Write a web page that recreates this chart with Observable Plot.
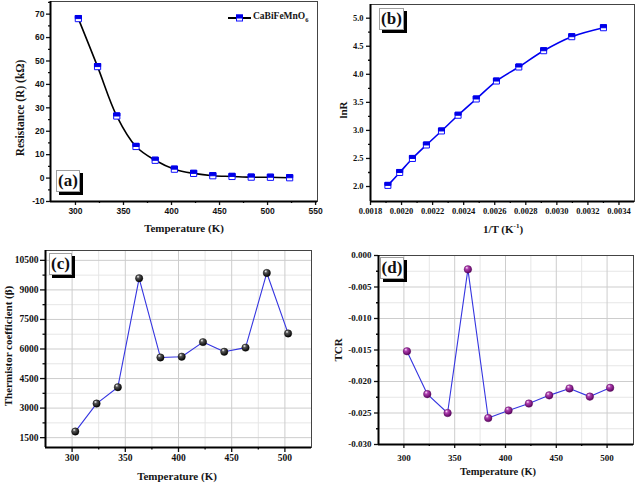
<!DOCTYPE html>
<html><head><meta charset="utf-8">
<script src="https://cdn.jsdelivr.net/npm/d3@7"></script>
<script src="https://cdn.jsdelivr.net/npm/@observablehq/plot@0.6"></script>
<style>
html,body{margin:0;padding:0;background:#fff;}
#wrap{position:relative;width:638px;height:484px;overflow:hidden;background:#fff;}
.t{position:absolute;font-family:"Liberation Serif","Times New Roman",serif;font-weight:bold;color:#151515;white-space:nowrap;line-height:1;}
.box{position:absolute;background:#fff;border:1px solid #a0a0a0;box-shadow:3px 3px 0 #000;font-family:"Liberation Serif",serif;font-weight:bold;font-size:17px;text-align:center;box-sizing:border-box;color:#111;}
</style></head><body><div id="wrap"></div>
<script>
// ---------- data ----------
const tempA = [303, 323, 343, 363, 383, 403, 423, 443, 463, 483, 503, 523];
const resistance = [68.1, 47.6, 26.5, 13.5, 7.6, 3.8, 2.0, 1.0, 0.7, 0.4, 0.35, 0.15];
const invT = [0.001912, 0.001988, 0.00207, 0.00216, 0.002257, 0.002364, 0.002481, 0.002611, 0.002755, 0.002915, 0.003096, 0.0033];
const lnR = [2.02, 2.25, 2.50, 2.74, 2.99, 3.27, 3.56, 3.88, 4.13, 4.42, 4.67, 4.83];
const tempC = [303, 323, 343, 363, 383, 403, 423, 443, 463, 483, 503];
const beta = [1810, 3230, 4060, 9590, 5570, 5610, 6350, 5860, 6070, 9860, 6790];
const tcr = [-0.0152, -0.0220, -0.0250, -0.0022, -0.0258, -0.0246, -0.0235, -0.0222, -0.0211, -0.0224, -0.0210];

// ---------- ticks ----------
const xTicksA = [300, 350, 400, 450, 500, 550];
const xMinorA = [325, 375, 425, 475, 525];
const yTicksA = [-10, 0, 10, 20, 30, 40, 50, 60, 70];
const yMinorA = [-5, 5, 15, 25, 35, 45, 55, 65, 75];
const xTicksB = [0.0018, 0.0020, 0.0022, 0.0024, 0.0026, 0.0028, 0.0030, 0.0032, 0.0034];
const xMinorB = [0.0019, 0.0021, 0.0023, 0.0025, 0.0027, 0.0029, 0.0031, 0.0033];
const yTicksB = [2.0, 2.5, 3.0, 3.5, 4.0, 4.5, 5.0];
const yMinorB = [2.25, 2.75, 3.25, 3.75, 4.25, 4.75];
const xTicksT = [300, 350, 400, 450, 500];
const xMinorT = [325, 375, 425, 475];
const yTicksC = [1500, 3000, 4500, 6000, 7500, 9000, 10500];
const yMinorC = [2250, 3750, 5250, 6750, 8250, 9750];
const yTicksD = [-0.030, -0.025, -0.020, -0.015, -0.010, -0.005, 0.000];
const yMinorD = [-0.0275, -0.0225, -0.0175, -0.0125, -0.0075, -0.0025];

const W = document.getElementById("wrap");

const topHalf = {
  draw(context, size) {
    const w = Math.sqrt(size) / 2;
    context.moveTo(-w, -w); context.lineTo(w, -w); context.lineTo(w, 0); context.lineTo(-w, 0); context.closePath();
  }
};

function panel(o) {
  const marks = [];
  if (o.grid) {
    marks.push(Plot.gridX(o.xMinor, {stroke: "#e6e6e6", strokeOpacity: 1}));
    marks.push(Plot.gridY(o.yMinor, {stroke: "#e6e6e6", strokeOpacity: 1}));
    marks.push(Plot.gridX(o.xTicks, {stroke: "#cdcdcd", strokeOpacity: 1}));
    marks.push(Plot.gridY(o.yTicks, {stroke: "#cdcdcd", strokeOpacity: 1}));
  }
  marks.push(Plot.frame({stroke: "#444", strokeWidth: 1}));
  marks.push(Plot.axisX(o.xTicks, {label: null, tickSize: o.ts, tickPadding: o.xPad, tickFormat: o.xFmt, strokeWidth: 1.3}));
  marks.push(Plot.axisX(o.xMinor, {label: null, tickSize: o.ts / 2, tickFormat: () => "", strokeWidth: 1.3}));
  marks.push(Plot.axisY(o.yTicks, {label: null, tickSize: o.ts, tickPadding: o.yPad, tickFormat: o.yFmt, strokeWidth: 1.3}));
  marks.push(Plot.axisY(o.yMinor, {label: null, tickSize: o.ts / 2, tickFormat: () => "", strokeWidth: 1.3}));
  marks.push(...o.marks);
  marks.push(Plot.ruleX([o.xDomain[0]], {stroke: "#000", strokeWidth: 2}));
  marks.push(Plot.ruleY([o.yDomain[0]], {stroke: "#000", strokeWidth: 2}));
  const svg = Plot.plot({
    width: o.width, height: o.height,
    marginLeft: o.m[0], marginRight: o.m[1], marginTop: o.m[2], marginBottom: o.m[3],
    x: {domain: o.xDomain}, y: {domain: o.yDomain},
    style: {fontFamily: o.font, fontSize: o.fs + "px", fontWeight: "bold", color: "#111", background: "transparent", overflow: "visible"},
    marks
  });
  svg.style.position = "absolute";
  svg.style.left = o.left + "px";
  svg.style.top = o.top + "px";
  svg.style.maxWidth = "none";
  W.appendChild(svg);
  return svg;
}

function addGradient(svg, id, c0, c1, c2) {
  const defs = d3.select(svg).insert("defs", ":first-child");
  const g = defs.append("radialGradient").attr("id", id).attr("cx", "38%").attr("cy", "32%").attr("r", "70%").attr("fx", "35%").attr("fy", "28%");
  g.append("stop").attr("offset", "0%").attr("stop-color", c0);
  g.append("stop").attr("offset", "30%").attr("stop-color", c1);
  g.append("stop").attr("offset", "100%").attr("stop-color", c2);
}

function addText(html, x, y, size, rot) {
  const d = document.createElement("div");
  d.className = "t";
  d.innerHTML = html;
  d.style.left = x + "px"; d.style.top = y + "px"; d.style.fontSize = size + "px";
  d.style.transform = rot ? "translate(-50%,-50%) rotate(-90deg)" : "translate(-50%,-50%)";
  W.appendChild(d);
}
function addBox(label, x, y, w, h) {
  const d = document.createElement("div");
  d.className = "box";
  d.textContent = label;
  d.style.left = x + "px"; d.style.top = y + "px"; d.style.width = w + "px"; d.style.height = h + "px";
  d.style.lineHeight = (h - 2) + "px";
  W.appendChild(d);
}

const str = d => String(d);

// ---------- (a) ----------
const dataA = tempA.map((t, i) => ({t, r: resistance[i]}));
panel({
  left: 0, top: 0, width: 320, height: 240, m: [50, 3, 1, 39],
  xDomain: [274, 552], yDomain: [-10, 75.4],
  xTicks: xTicksA, xMinor: xMinorA, yTicks: yTicksA, yMinor: yMinorA,
  xFmt: str, yFmt: str, ts: 4, xPad: 2, yPad: 2,
  font: '"Liberation Sans", Arial, sans-serif', fs: 8.5,
  marks: [
    Plot.line(dataA, {x: "t", y: "r", curve: "catmull-rom", stroke: "#000", strokeWidth: 1.6}),
    Plot.dot(dataA, {x: "t", y: "r", symbol: "square", r: 3.5, fill: "#fff", stroke: "#1010ff", strokeWidth: 1}),
    Plot.dot(dataA, {x: "t", y: "r", symbol: topHalf, r: 3.5, fill: "#0000e8", stroke: "#0000e8", strokeWidth: 1})
  ]
});

// ---------- (b) ----------
const dataB = invT.map((v, i) => ({v, l: lnR[i]}));
panel({
  left: 318, top: 0, width: 320, height: 240, m: [52, 4, 4, 39],
  xDomain: [0.0018, 0.0035], yDomain: [1.733, 5.244],
  xTicks: xTicksB, xMinor: xMinorB, yTicks: yTicksB, yMinor: yMinorB,
  xFmt: d => d.toFixed(4), yFmt: d => d.toFixed(1), ts: 4, xPad: 2, yPad: 3,
  font: '"Liberation Serif", "Times New Roman", serif', fs: 8.5,
  marks: [
    Plot.line(dataB, {x: "v", y: "l", curve: "catmull-rom", stroke: "#0000f0", strokeWidth: 1.6}),
    Plot.dot(dataB, {x: "v", y: "l", symbol: "square", r: 3.4, fill: "#fff", stroke: "#1010ff", strokeWidth: 1}),
    Plot.dot(dataB, {x: "v", y: "l", symbol: topHalf, r: 3.4, fill: "#0000e8", stroke: "#0000e8", strokeWidth: 1})
  ]
});

// ---------- (c) ----------
const dataC = tempC.map((t, i) => ({t, b: beta[i]}));
const svgC = panel({
  left: 0, top: 240, width: 320, height: 244, m: [45, 9, 10, 37],
  xDomain: [275, 525], yDomain: [1000, 11000], grid: true,
  xTicks: xTicksT, xMinor: xMinorT, yTicks: yTicksC, yMinor: yMinorC,
  xFmt: str, yFmt: str, ts: 5, xPad: 2, yPad: 2,
  font: '"Liberation Serif", "Times New Roman", serif', fs: 9.5,
  marks: [
    Plot.line(dataC, {x: "t", y: "b", stroke: "#3535e0", strokeWidth: 1.1}),
    Plot.dot(dataC, {x: "t", y: "b", r: 3.7, fill: "url(#sphereBlack)", stroke: "#000", strokeWidth: 0.4})
  ]
});
addGradient(svgC, "sphereBlack", "#ffffff", "#555555", "#000000");

// ---------- (d) ----------
const dataD = tempC.map((t, i) => ({t, c: tcr[i]}));
const svgD = panel({
  left: 318, top: 240, width: 320, height: 244, m: [60, 5, 15, 40],
  xDomain: [275, 526], yDomain: [-0.030, 0.000], grid: true,
  xTicks: xTicksT, xMinor: xMinorT, yTicks: yTicksD, yMinor: yMinorD,
  xFmt: str, yFmt: d => d.toFixed(3), ts: 4, xPad: 6, yPad: 3,
  font: '"Liberation Serif", "Times New Roman", serif', fs: 9,
  marks: [
    Plot.line(dataD, {x: "t", y: "c", stroke: "#3535e0", strokeWidth: 1.1}),
    Plot.dot(dataD, {x: "t", y: "c", r: 3.8, fill: "url(#spherePurple)", stroke: "#4a0050", strokeWidth: 0.4})
  ]
});
addGradient(svgD, "spherePurple", "#ffe6ff", "#b040b0", "#5a005e");

// ---------- titles ----------
addText("Temperature (K)", 184, 228, 11);
addText("Resistance (R) (k&Omega;)", 21, 108, 11.5, true);
addText("1/T (K<span style='font-size:7px;vertical-align:5px'>-1</span>)", 503, 229, 11);
addText("lnR", 343, 110, 11, true);
addText("Temperature (K)", 177, 476, 11);
addText("Thermistor coefficient (&beta;)", 8, 346, 11, true);
addText("Temperature (K)", 498, 472, 10.5);
addText("TCR", 338, 350, 11, true);

// legend (a)
const leg = document.createElement("div");
leg.style.cssText = "position:absolute;left:227px;top:11px;height:14px;display:flex;align-items:center;";
leg.innerHTML = "<svg width='25' height='14' style='overflow:visible'><line x1='1' y1='7' x2='24' y2='7' stroke='#000' stroke-width='2'/><rect x='9.5' y='4' width='6' height='6' fill='#fff' stroke='#1010ff'/><rect x='9.5' y='4' width='6' height='3' fill='#0000e8' stroke='#0000e8'/></svg>" +
  "<span class='t' style='position:static;font-size:9.5px;margin-left:1px'>CaBiFeMnO<span style='font-size:6.5px;vertical-align:-3px'>6</span></span>";
W.appendChild(leg);

// panel labels
addBox("(a)", 56, 170, 24, 22);
addBox("(b)", 379, 8, 25, 22);
addBox("(c)", 49, 253, 23, 22);
addBox("(d)", 380, 257, 24, 22);
</script></body></html>
